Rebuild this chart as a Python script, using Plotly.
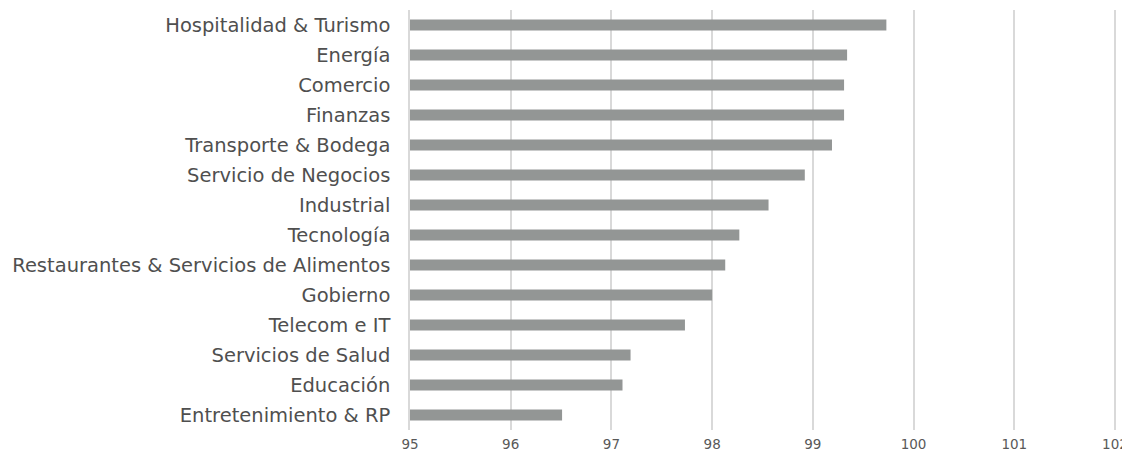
import plotly.graph_objects as go

# categories top to bottom as they appear in the chart
sectores = ["Hospitalidad & Turismo", "Energía", "Comercio", "Finanzas",
            "Transporte & Bodega", "Servicio de Negocios", "Industrial",
            "Tecnología", "Restaurantes & Servicios de Alimentos", "Gobierno",
            "Telecom e IT", "Servicios de Salud", "Educación",
            "Entretenimiento & RP"]
valores = [99.73, 99.34, 99.31, 99.31, 99.19, 98.92, 98.56,
           98.27, 98.13, 98.00, 97.73, 97.19, 97.11, 96.51]
ticks_x = [95, 96, 97, 98, 99, 100, 101, 102]

fig = go.Figure()
fig.add_bar(x=valores, y=sectores, orientation="h", base=0,
            marker=dict(color="#939695", line=dict(width=0)))

# the page body adds 8px of margin all round, so keep the figure smaller
# than the window (no scrollbar)
fig.update_layout(
    width=1122, height=442,
    margin=dict(l=402, r=14, t=2, b=20),
    paper_bgcolor="white", plot_bgcolor="white",
    bargap=0.63, showlegend=False,
    font=dict(family="DejaVu Sans", color="#4a4a4a"),
)
fig.update_xaxes(range=[95, 102.01], tickvals=ticks_x, showgrid=True,
                 gridcolor="#d9d9d9", gridwidth=1.5, zeroline=False,
                 showline=False, tickfont=dict(size=13.5, color="#595959"),
                 ticks="", ticklabelstandoff=4, automargin=False,
                 ticklabeloverflow="allow")
fig.update_yaxes(autorange="reversed", showgrid=False, showline=True,
                 linecolor="#d9d9d9", linewidth=1.5, ticks="",
                 tickfont=dict(size=19.5, color="#4f4f4f"),
                 ticklabelstandoff=14, automargin=False)

fig.write_html("out.html")
